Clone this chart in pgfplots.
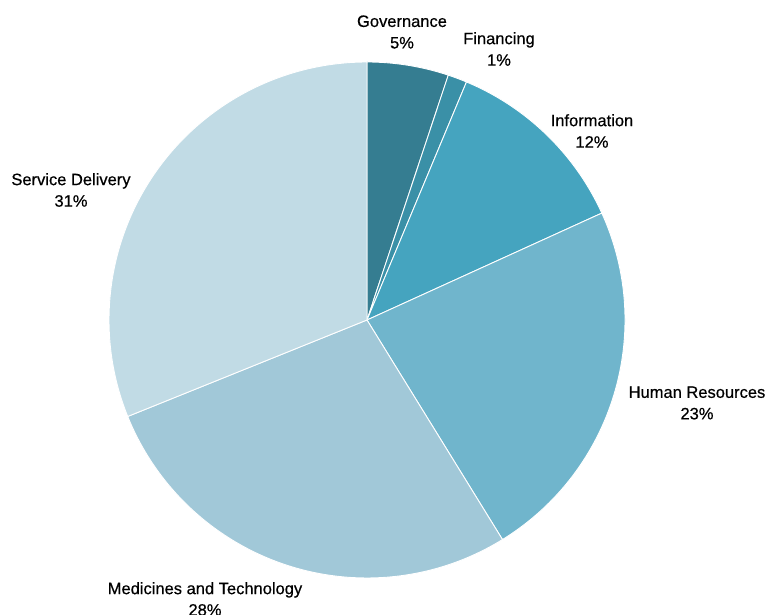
\documentclass[border=0pt]{standalone}
\usepackage{pgfplots}
\pgfplotsset{compat=1.18}
\usepackage{fontspec}
\setmainfont{Liberation Sans}
\newfontfamily\labelfont[FakeBold=0.5]{Liberation Sans}

\definecolor{cGov}{HTML}{357D91}
\definecolor{cFin}{HTML}{3A90A7}
\definecolor{cInfo}{HTML}{45A4BF}
\definecolor{cHR}{HTML}{70B5CC}
\definecolor{cMed}{HTML}{A1C8D8}
\definecolor{cSvc}{HTML}{C1DBE5}

% shares in percent, clockwise from 12 o'clock:
% Governance 5.1, Financing 1.2, Information 11.9,
% Human Resources 23.0, Medicines and Technology 27.7, Service Delivery 31.1
\newcommand{\slice}[3]{%
  \fill[#3, draw=white, line width=0.9pt]
    (axis cs:367,295) -- ++({90-3.6*#1}:258pt)
    arc[start angle={90-3.6*#1}, end angle={90-3.6*#2}, radius=258pt] -- cycle;%
}

\begin{document}
\begin{tikzpicture}
\begin{axis}[
    x=1pt, y=1pt,
    xmin=0, xmax=769,
    ymin=0, ymax=615,
    hide axis,
    clip=false,
    anchor=origin, at={(0,0)},
]
\addplot[draw=none, forget plot] coordinates {(0,0) (769,615)};

\slice{0}{5.1}{cGov}
\slice{5.1}{6.3}{cFin}
\slice{6.3}{18.2}{cInfo}
\slice{18.2}{41.2}{cHR}
\slice{41.2}{68.9}{cMed}
\slice{68.9}{100}{cSvc}

\begin{scope}[every node/.style={align=center, inner sep=0pt,
    font=\labelfont\fontsize{16.5}{21.5}\selectfont, text=black}]
\node at (axis cs:402,583) {Governance\\5\%};
\node at (axis cs:499,566) {Financing\\1\%};
\node at (axis cs:592,484) {Information\\12\%};
\node at (axis cs:71,425) {Service Delivery\\31\%};
\node at (axis cs:697,212) {Human Resources\\23\%};
\node at (axis cs:205,16) {Medicines and Technology\\28\%};
\end{scope}

\coordinate (sw) at (axis cs:0,0);
\coordinate (ne) at (axis cs:769,615);
\end{axis}
\pgfresetboundingbox
\path[use as bounding box] (sw) rectangle (ne);
\end{tikzpicture}
\end{document}
